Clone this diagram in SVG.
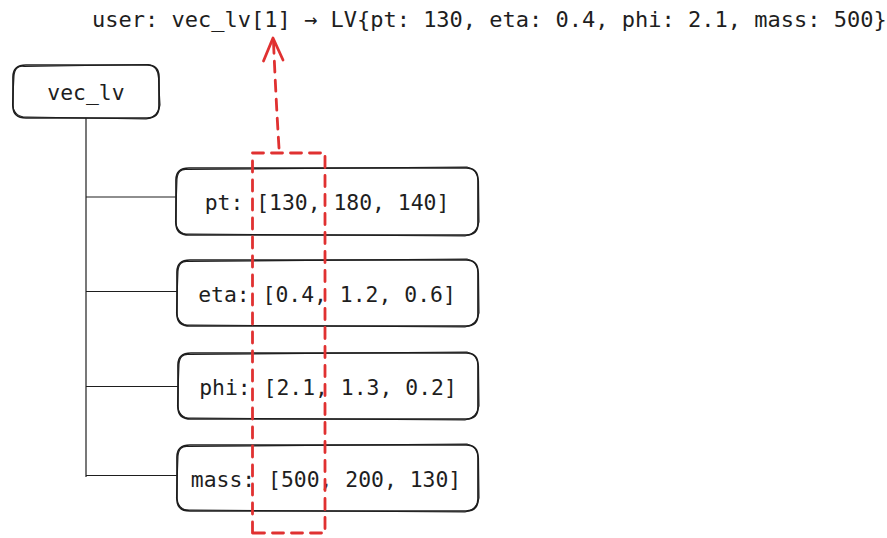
<svg xmlns="http://www.w3.org/2000/svg" width="887" height="538" viewBox="0 0 887 538">
  <style>
    .mono { font-family: "DejaVu Sans Mono", "Liberation Mono", monospace; fill: #1e1e1e; }
    .title { font-size: 22px; }
    .label { font-size: 21.4px; }
    .box { fill: none; stroke: #1e1e1e; stroke-width: 1.7; stroke-linejoin: round; }
    .box2 { fill: none; stroke: #1e1e1e; stroke-width: 1.1; stroke-linejoin: round; }
    .wire { fill: none; stroke: #1e1e1e; stroke-width: 1.2; }
    .sel { fill: none; stroke: #e03131; stroke-width: 2.8; stroke-dasharray: 11 8; stroke-linecap: round; }
  </style>
  <rect width="887" height="538" fill="#ffffff"/>

  <!-- header line -->
  <text class="mono title" x="92" y="27">user: vec_lv[1] → LV{pt: 130, eta: 0.4, phi: 2.1, mass: 500}</text>

  <!-- connectors -->
  <g id="connectors">
    <path class="wire" d="M86 118 L86 477"/>
    <path class="wire" d="M86 197 L176 197"/>
    <path class="wire" d="M86 291.5 L177 291.5"/>
    <path class="wire" d="M86 386.5 L178 386.5"/>
    <path class="wire" d="M86 475.5 L177 475.5"/>
  </g>

  <!-- root node -->
  <g id="vec_lv">
    <path class="box" d="M26 65 L147 65 Q159 65 159 77 L159 106 Q159 118 147 118 L26 118 Q13 118 13 106 L13 77 Q13 65 26 65 Z"/>
    <path class="box2" d="M24 66.5 L148 64.5 Q158 66 158.5 78 L160 105 Q158 117.5 146 119 L27 117 Q14.5 117.5 12.5 105 L14 76 Q15 65 24 66.5"/>
    <text class="mono label" x="86" y="100" text-anchor="middle">vec_lv</text>
  </g>

  <!-- field nodes -->
  <g id="pt">
    <path class="box" d="M189 168 L466 168 Q478 168 478 180 L478 223 Q478 235 466 235 L189 235 Q176 235 176 223 L176 180 Q176 168 189 168 Z"/>
    <path class="box2" d="M187 169.5 L467 167 Q477 169 478.5 181 L479 222 Q477 234 465 236 L190 234 Q177.5 235 175.5 222 L177 179 Q178 168.5 187 169.5"/>
    <text class="mono label" x="327" y="210" text-anchor="middle">pt: [130, 180, 140]</text>
  </g>

  <g id="eta">
    <path class="box" d="M190 260 L466 260 Q478 260 478 272 L478 314 Q478 326 466 326 L190 326 Q177 326 177 314 L177 272 Q177 260 190 260 Z"/>
    <path class="box2" d="M188 261.5 L467 259 Q477 261 478.5 273 L479 313 Q477 325 465 327 L191 325 Q178.5 326 176.5 313 L178 271 Q179 260.5 188 261.5"/>
    <text class="mono label" x="327" y="302" text-anchor="middle">eta: [0.4, 1.2, 0.6]</text>
  </g>

  <g id="phi">
    <path class="box" d="M191 353 L466 353 Q478 353 478 365 L478 407 Q478 419 466 419 L191 419 Q178 419 178 407 L178 365 Q178 353 191 353 Z"/>
    <path class="box2" d="M189 354.5 L467 352 Q477 354 478.5 366 L479 406 Q477 418 465 420 L192 418 Q179.5 419 177.5 406 L179 364 Q180 353.5 189 354.5"/>
    <text class="mono label" x="328" y="395" text-anchor="middle">phi: [2.1, 1.3, 0.2]</text>
  </g>

  <g id="mass">
    <path class="box" d="M190 445 L466 445 Q478 445 478 457 L478 499 Q478 511 466 511 L190 511 Q177 511 177 499 L177 457 Q177 445 190 445 Z"/>
    <path class="box2" d="M188 446.5 L467 444 Q477 446 478.5 458 L479 498 Q477 510 465 512 L191 510 Q178.5 511 176.5 498 L178 456 Q179 445.5 188 446.5"/>
    <text class="mono label" x="326" y="487" text-anchor="middle">mass: [500, 200, 130]</text>
  </g>

  <!-- highlighted column and pointer to the indexed element -->
  <g id="selection">
    <path class="sel" d="M252.5 533 L252.5 153 L325 153 L325 533 Z"/>
    <path class="sel" d="M279 148 Q276 100 273.5 42"/>
    <path fill="none" stroke="#e03131" stroke-width="2.8" stroke-linecap="round" stroke-linejoin="round" d="M263.5 61 L273 38 L283 60"/>
  </g>
</svg>
